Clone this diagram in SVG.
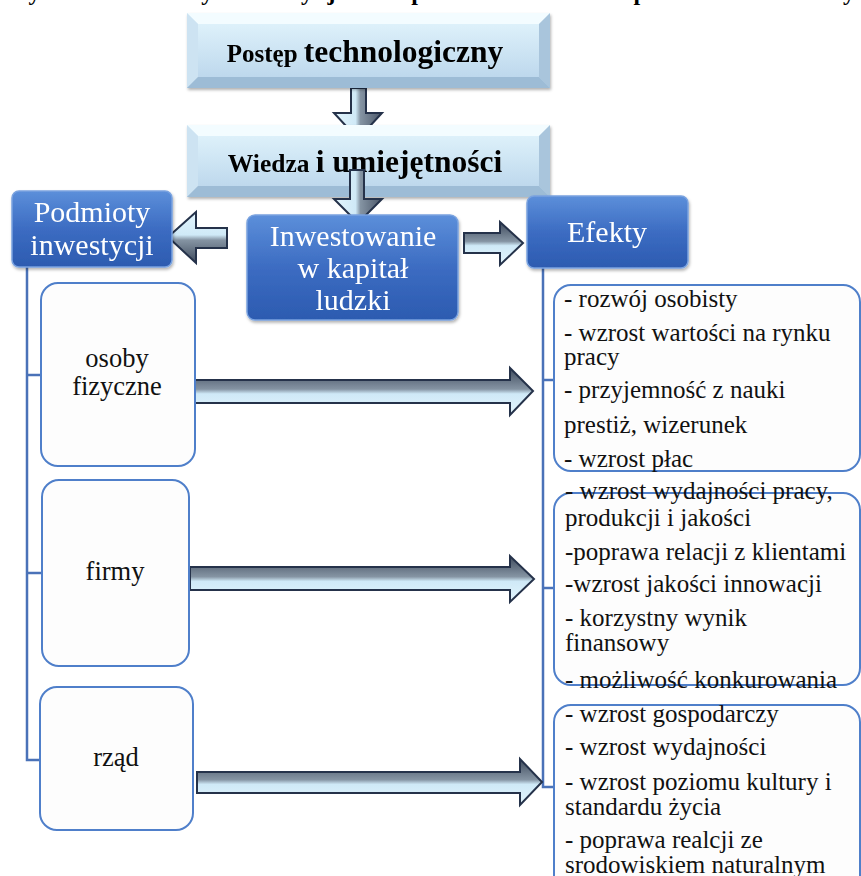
<svg xmlns="http://www.w3.org/2000/svg" width="861" height="876" viewBox="0 0 861 876" font-family="'Liberation Serif', Tinos, 'Times New Roman', 'DejaVu Serif', serif">
  <defs>
    <linearGradient id="gHead" x1="0" y1="0" x2="0" y2="1">
      <stop offset="0" stop-color="#e4f6fd"/>
      <stop offset="1" stop-color="#b7d3ea"/>
    </linearGradient>
    <linearGradient id="gBlue" x1="0" y1="0" x2="0" y2="1">
      <stop offset="0" stop-color="#5c8fda"/>
      <stop offset="0.5" stop-color="#3c6cc2"/>
      <stop offset="1" stop-color="#2c5bb0"/>
    </linearGradient>
    <linearGradient id="gArrR" x1="0" y1="0" x2="0" y2="1">
      <stop offset="0" stop-color="#3e4a5c"/>
      <stop offset="0.45" stop-color="#8594a3"/>
      <stop offset="0.55" stop-color="#cfe9f7"/>
      <stop offset="1" stop-color="#e3f5fd"/>
    </linearGradient>
    <linearGradient id="gArrL" x1="0" y1="0" x2="0" y2="1">
      <stop offset="0" stop-color="#e3f5fd"/>
      <stop offset="0.45" stop-color="#cfe9f7"/>
      <stop offset="0.55" stop-color="#8594a3"/>
      <stop offset="1" stop-color="#3e4a5c"/>
    </linearGradient>
    <linearGradient id="gArrD" x1="0" y1="0" x2="1" y2="0">
      <stop offset="0" stop-color="#e3f5fd"/>
      <stop offset="0.45" stop-color="#cfe9f7"/>
      <stop offset="0.55" stop-color="#8594a3"/>
      <stop offset="1" stop-color="#4a5668"/>
    </linearGradient>
    <filter id="shadow" x="-10%" y="-10%" width="120%" height="130%">
      <feDropShadow dx="1" dy="2" stdDeviation="1.5" flood-color="#000" flood-opacity="0.3"/>
    </filter>
    <style>
      text { font-family: "Liberation Serif", Tinos, "Times New Roman", "DejaVu Serif", serif; }
      .head { fill: url(#gHead); }
      .bvT { fill: #f3fcff; }
      .bvL { fill: #cde3f2; }
      .bvR { fill: #a9c5dc; }
      .bvB { fill: #9dbcd6; }
      .blue { fill: url(#gBlue); stroke: #7aa3e0; stroke-width: 1.5; }
      .card { fill: #fdfdfd; stroke: #4f7fca; stroke-width: 2; }
      .line { fill: none; stroke: #4a72b8; stroke-width: 2.5; }
      .arrow { stroke: #25324a; stroke-width: 2; stroke-linejoin: miter; }
      .tHead { font-weight: bold; fill: #000; }
      .tBlue { font-size: 30px; fill: #fff; text-anchor: middle; }
      .tCard { font-size: 26.5px; fill: #111; text-anchor: middle; }
      .tList { font-size: 25px; fill: #111; }
    </style>
  </defs>

  <rect width="861" height="876" fill="#fff"/>

  <!-- caption, clipped by the top edge -->
  <text class="tHead" x="10" y="-0.5" font-size="24" textLength="845" lengthAdjust="spacing">Rys. 1. Podmioty inwestycji w kapitał ludzki i ich spodziewane efekty</text>

  <!-- connectors -->
  <g id="connectors">
    <!-- tree lines -->
    <polyline class="line" points="27,267 27,760 41,760"/>
    <line class="line" x1="27" y1="375" x2="42" y2="375"/>
    <line class="line" x1="27" y1="573" x2="43" y2="573"/>
    <polyline class="line" points="543,268 543,787 554,787"/>
    <line class="line" x1="543" y1="380" x2="554" y2="380"/>
    <line class="line" x1="543" y1="588" x2="554" y2="588"/>

    <!-- down arrow between the two top boxes -->
    <polygon class="arrow" fill="url(#gArrD)" points="351,88 366,88 366,113 382,113 358,139 334,113 351,113"/>

    <!-- side arrows at the middle row -->
    <polygon class="arrow" fill="url(#gArrL)" points="227,228 227,248 196,248 196,263 168,237 196,212 196,228"/>
    <polygon class="arrow" fill="url(#gArrR)" points="464,233 464,253 500,253 500,265 523,243 500,222 500,233"/>

    <!-- long arrows to the effects -->
    <polygon class="arrow" fill="url(#gArrR)" points="188,380 510,380 510,368 533,391 510,415 510,403 188,403"/>
    <polygon class="arrow" fill="url(#gArrR)" points="190,567 510,567 510,556 534,579 510,602 510,590 190,590"/>
    <polygon class="arrow" fill="url(#gArrR)" points="197,772 520,772 520,759 542,782 520,805 520,793 197,793"/>
  </g>

  <!-- Postęp technologiczny -->
  <g id="postep" filter="url(#shadow)">
    <rect class="head" x="187" y="13" width="363" height="75"/>
    <polygon class="bvT" points="187,13 550,13 539,24 198,24"/>
    <polygon class="bvL" points="187,13 198,24 198,77 187,88"/>
    <polygon class="bvR" points="550,13 539,24 539,77 550,88"/>
    <polygon class="bvB" points="187,88 550,88 539,77 198,77"/>
    <text class="tHead" x="365" y="62" text-anchor="middle"><tspan font-size="25">Postęp </tspan><tspan font-size="31.5">technologiczny</tspan></text>
  </g>

  <!-- Wiedza i umiejętności -->
  <g id="wiedza" filter="url(#shadow)">
    <rect class="head" x="187" y="125" width="363" height="72"/>
    <polygon class="bvT" points="187,125 550,125 539,136 198,136"/>
    <polygon class="bvL" points="187,125 198,136 198,186 187,197"/>
    <polygon class="bvR" points="550,125 539,136 539,186 550,197"/>
    <polygon class="bvB" points="187,197 550,197 539,186 198,186"/>
    <text class="tHead" x="365" y="172" text-anchor="middle"><tspan font-size="25.5">Wiedza </tspan><tspan font-size="31.5">i umiejętności</tspan></text>
  </g>

  <!-- down arrow drawn over the box text -->
  <polygon class="arrow" fill="url(#gArrD)" points="350,170 364,170 364,199 382,199 358,223 334,199 350,199"/>

  <!-- Podmioty inwestycji -->
  <g id="podmioty" filter="url(#shadow)">
    <rect class="blue" x="12" y="191" width="160" height="76" rx="7"/>
    <text class="tBlue" x="92" y="222">Podmioty</text>
    <text class="tBlue" x="92" y="255">inwestycji</text>
  </g>

  <!-- Inwestowanie w kapitał ludzki -->
  <g id="inwestowanie" filter="url(#shadow)">
    <rect class="blue" x="247" y="215" width="211" height="105" rx="8"/>
    <text class="tBlue" x="353" y="246">Inwestowanie</text>
    <text class="tBlue" x="353" y="278">w kapitał</text>
    <text class="tBlue" x="353" y="310">ludzki</text>
  </g>

  <!-- Efekty -->
  <g id="efekty" filter="url(#shadow)">
    <rect class="blue" x="527" y="196" width="161" height="72" rx="7"/>
    <text class="tBlue" x="607" y="242">Efekty</text>
  </g>

  <!-- investor cards -->
  <g id="osoby">
    <rect class="card" x="41" y="283" width="154" height="183" rx="17"/>
    <text class="tCard" x="117" y="367">osoby</text>
    <text class="tCard" x="117" y="395">fizyczne</text>
  </g>
  <g id="firmy">
    <rect class="card" x="42" y="480" width="147" height="186" rx="17"/>
    <text class="tCard" x="115" y="580">firmy</text>
  </g>
  <g id="rzad">
    <rect class="card" x="40" y="687" width="153" height="143" rx="17"/>
    <text class="tCard" x="116" y="766">rząd</text>
  </g>

  <!-- effect lists -->
  <g id="efekty-osoby">
    <rect class="card" x="554" y="285" width="306" height="186" rx="17"/>
    <text class="tList" x="564" y="307">- rozwój osobisty</text>
    <text class="tList" x="564" y="341">- wzrost wartości na rynku</text>
    <text class="tList" x="564" y="365">pracy</text>
    <text class="tList" x="564" y="398">- przyjemność z nauki</text>
    <text class="tList" x="564" y="433">prestiż, wizerunek</text>
    <text class="tList" x="564" y="467">- wzrost płac</text>
  </g>
  <g id="efekty-firmy">
    <rect class="card" x="554" y="493" width="306" height="192" rx="17"/>
    <text class="tList" x="565" y="499">- wzrost wydajności pracy,</text>
    <text class="tList" x="565" y="526">produkcji i jakości</text>
    <text class="tList" x="565" y="560">-poprawa relacji z klientami</text>
    <text class="tList" x="565" y="592">-wzrost jakości innowacji</text>
    <text class="tList" x="565" y="626">- korzystny wynik</text>
    <text class="tList" x="565" y="651">finansowy</text>
    <text class="tList" x="565" y="688">- możliwość konkurowania</text>
  </g>
  <g id="efekty-rzad">
    <rect class="card" x="554" y="705" width="306" height="190" rx="17"/>
    <text class="tList" x="565" y="722">- wzrost gospodarczy</text>
    <text class="tList" x="565" y="755">- wzrost wydajności</text>
    <text class="tList" x="565" y="790">- wzrost poziomu kultury i</text>
    <text class="tList" x="565" y="815">standardu życia</text>
    <text class="tList" x="565" y="848">- poprawa realcji ze</text>
    <text class="tList" x="565" y="873">srodowiskiem naturalnym</text>
  </g>
</svg>
